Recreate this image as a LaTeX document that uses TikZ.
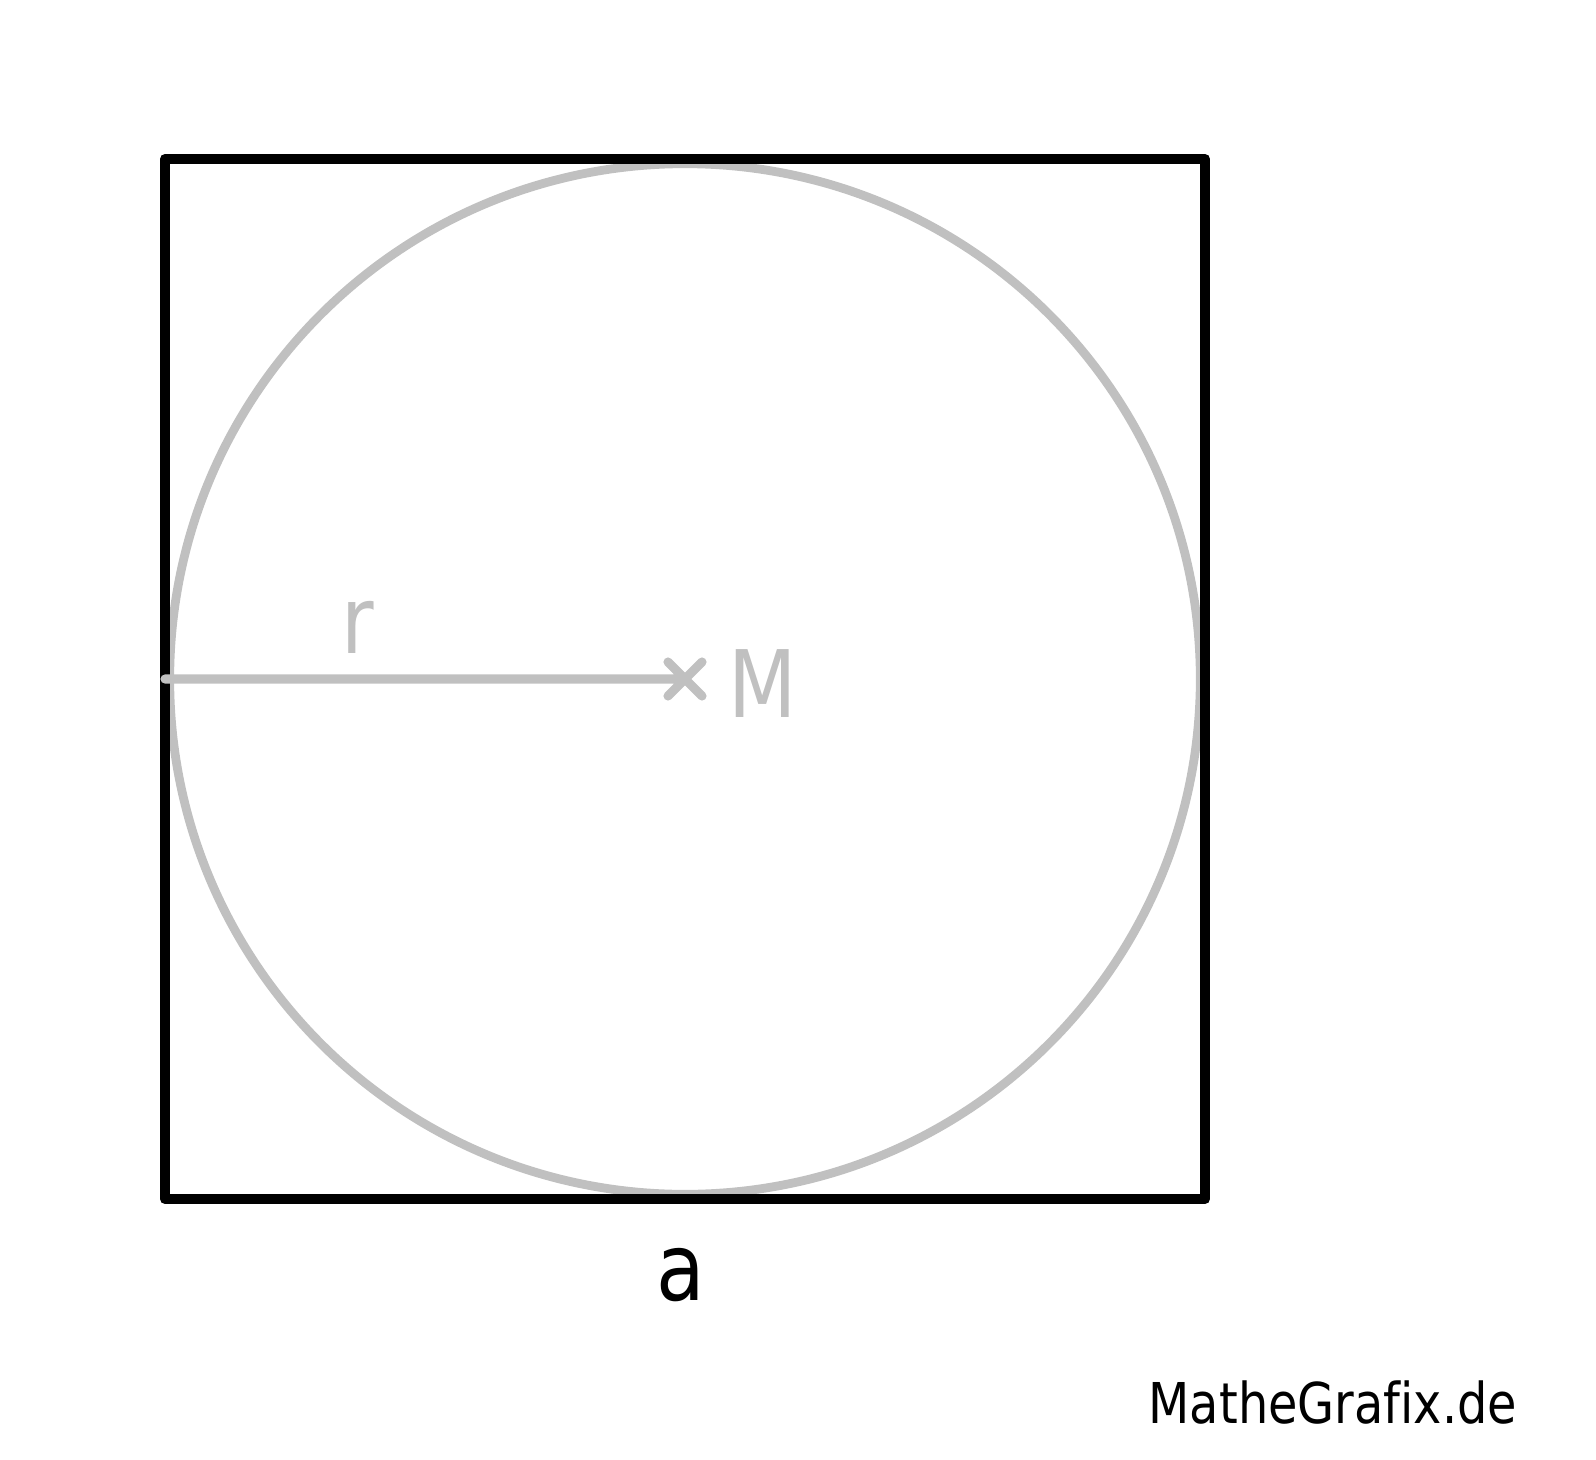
\documentclass[tikz,border=0pt]{standalone}
\usepackage{fontspec}
\setmainfont{DejaVu Sans}[FakeStretch=0.85, Ligatures=NoCommon]
\definecolor{hellgrau}{RGB}{192,192,192}
\begin{document}
\begin{tikzpicture}[x=.01cm, y=-.01cm, line join=round, line cap=round, font=\fontsize{26.5}{30}\selectfont, inner sep=0pt]
	\useasboundingbox (0,0) rectangle (1596,1460);
	\def\xmin{165} \def\xmax{1205}
	\def\ymin{159} \def\ymax{1199}
	\coordinate (M) at (685,679);
	\coordinate (L) at (\xmin,679);
	\draw[hellgrau, line width=2.5pt] (M) circle [radius=5.15cm];
	\draw[line width=2.85pt] (\xmin,\ymin) rectangle (\xmax,\ymax);
	\draw[hellgrau, line width=2.6pt] (L)--(M) (M) ++(-17,-17)--++(34,34) (M) ++(-17,17)--++(34,-34);
	\node[anchor=base, text=hellgrau] (rlab) at (358,653) {r};
	\node[anchor=base west, text=hellgrau] (Mlab) at (728,717) {M};
	\node[anchor=base] (alab) at (681,1300) {a};
	\node[anchor=base west, font=\fontsize{16}{19}\selectfont] (wm) at (1148,1423) {MatheGrafix.de};
\end{tikzpicture}
\end{document}
